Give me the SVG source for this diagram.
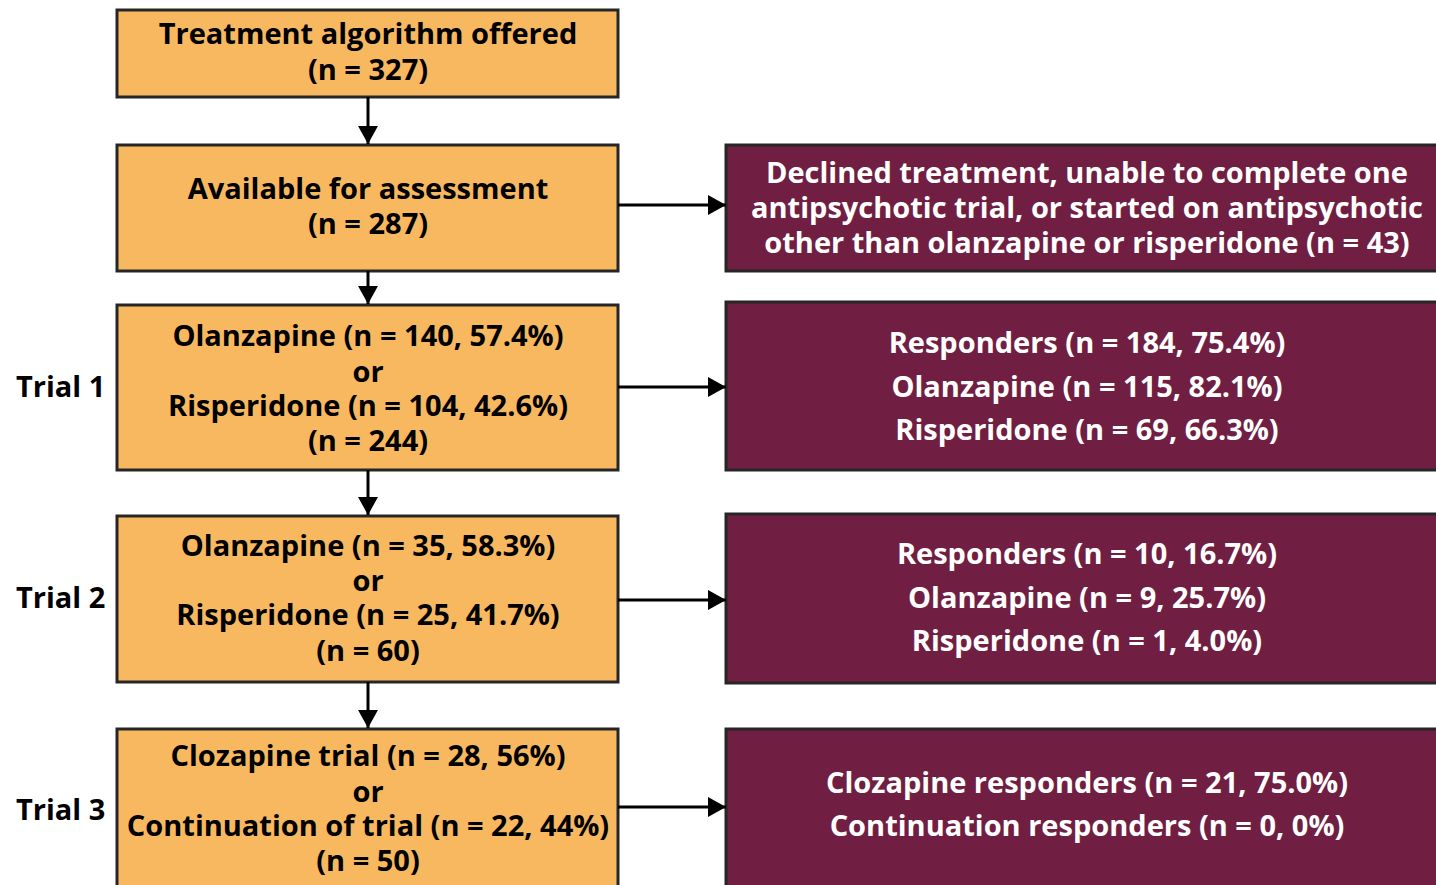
<svg xmlns="http://www.w3.org/2000/svg" width="1436" height="885" viewBox="0 0 1436 885">
<defs>
<marker id="ah" markerWidth="18" markerHeight="20" refX="18" refY="10" orient="auto" markerUnits="userSpaceOnUse" viewBox="0 0 18 20">
<path d="M0,0 L18,10 L0,20 Z" fill="#000"/>
</marker>
<style>
.o{fill:#F8B860;stroke:#262626;stroke-width:3}
.p{fill:#701F42;stroke:#262626;stroke-width:3}
text{font-family:"Open Sans",Lato,"Liberation Sans",sans-serif;font-weight:700;font-size:29px;text-anchor:middle;dominant-baseline:central}
.d{fill:#000}
.w{fill:#fff}
.lbl{text-anchor:start}
.c line{stroke:#000;stroke-width:3;marker-end:url(#ah)}
</style>
</defs>
<rect width="1436" height="885" fill="#fff"/>
<g id="n1"><rect class="o" x="117" y="10" width="501" height="87"/>
<text class="d" x="368" y="32">Treatment algorithm offered</text>
<text class="d" x="368" y="68">(n = 327)</text></g>
<g id="n2"><rect class="o" x="117" y="145" width="501" height="126"/>
<text class="d" x="368" y="187">Available for assessment</text>
<text class="d" x="368" y="222">(n = 287)</text></g>
<g id="n3"><rect class="o" x="117" y="305" width="501" height="165"/>
<text class="d" x="368" y="334">Olanzapine (n = 140, 57.4%)</text>
<text class="d" x="368" y="370">or</text>
<text class="d" x="368" y="404">Risperidone (n = 104, 42.6%)</text>
<text class="d" x="368" y="439">(n = 244)</text></g>
<g id="n4"><rect class="o" x="117" y="516" width="501" height="166"/>
<text class="d" x="368" y="544">Olanzapine (n = 35, 58.3%)</text>
<text class="d" x="368" y="579">or</text>
<text class="d" x="368" y="613">Risperidone (n = 25, 41.7%)</text>
<text class="d" x="368" y="649">(n = 60)</text></g>
<g id="n5"><rect class="o" x="117" y="729" width="501" height="170"/>
<text class="d" x="368" y="754">Clozapine trial (n = 28, 56%)</text>
<text class="d" x="368" y="790">or</text>
<text class="d" x="368" y="824">Continuation of trial (n = 22, 44%)</text>
<text class="d" x="368" y="859">(n = 50)</text></g>
<g id="r1"><rect class="p" x="726" y="145" width="730" height="126"/>
<text class="w" x="1087" y="171">Declined treatment, unable to complete one</text>
<text class="w" x="1087" y="206">antipsychotic trial, or started on antipsychotic</text>
<text class="w" x="1087" y="241">other than olanzapine or risperidone (n = 43)</text></g>
<g id="r2"><rect class="p" x="726" y="302" width="730" height="168"/>
<text class="w" x="1087" y="341">Responders (n = 184, 75.4%)</text>
<text class="w" x="1087" y="385">Olanzapine (n = 115, 82.1%)</text>
<text class="w" x="1087" y="428">Risperidone (n = 69, 66.3%)</text></g>
<g id="r3"><rect class="p" x="726" y="514" width="730" height="169"/>
<text class="w" x="1087" y="552">Responders (n = 10, 16.7%)</text>
<text class="w" x="1087" y="596">Olanzapine (n = 9, 25.7%)</text>
<text class="w" x="1087" y="639">Risperidone (n = 1, 4.0%)</text></g>
<g id="r4"><rect class="p" x="726" y="729" width="730" height="170"/>
<text class="w" x="1087" y="781">Clozapine responders (n = 21, 75.0%)</text>
<text class="w" x="1087" y="824">Continuation responders (n = 0, 0%)</text></g>
<g id="labels">
<text class="d lbl" x="16" y="385">Trial 1</text>
<text class="d lbl" x="16" y="596">Trial 2</text>
<text class="d lbl" x="16" y="808">Trial 3</text>
</g>
<g class="c" id="connectors">
<line x1="368" y1="97" x2="368" y2="144"/>
<line x1="368" y1="271" x2="368" y2="304"/>
<line x1="368" y1="470" x2="368" y2="515"/>
<line x1="368" y1="682" x2="368" y2="728"/>
<line x1="618" y1="205" x2="726" y2="205"/>
<line x1="618" y1="387" x2="726" y2="387"/>
<line x1="618" y1="600" x2="726" y2="600"/>
<line x1="618" y1="807" x2="726" y2="807"/>
</g>
</svg>
